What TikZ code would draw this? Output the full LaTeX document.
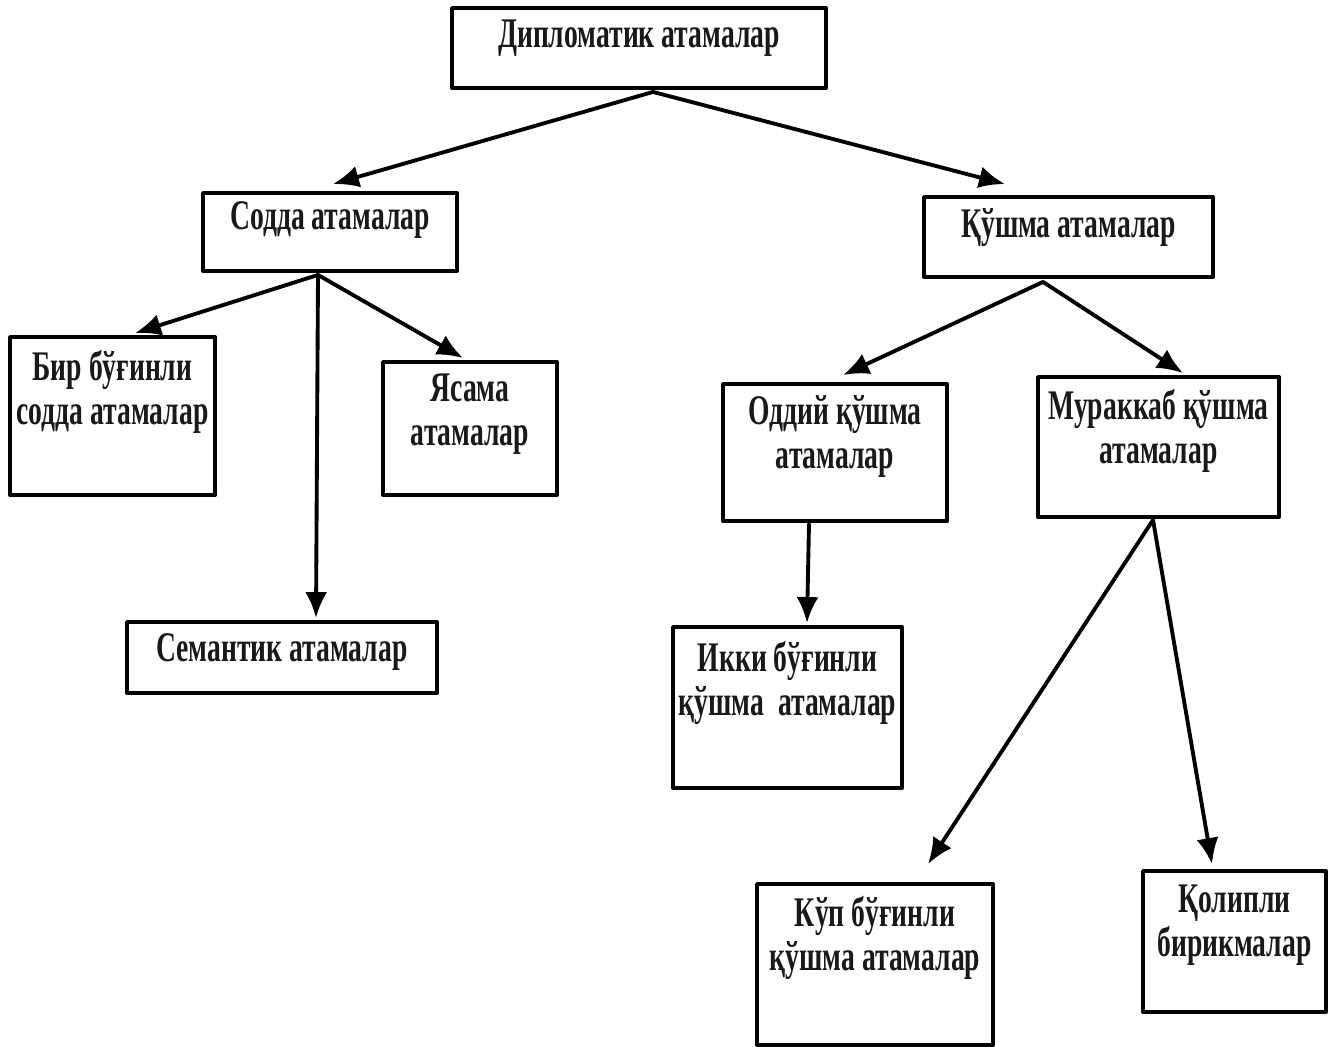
\documentclass[tikz,border=0pt]{standalone}
\usepackage{fontspec}
\newfontfamily\atama[FakeStretch=0.655]{Liberation Serif}
\usetikzlibrary{positioning, arrows.meta, calc}

\begin{document}
\begin{tikzpicture}[x=0.02cm, y=-0.02cm, line cap=round, line join=round,
	>={Latex[length=0.52cm,width=0.44cm]},
	quti/.style={draw, line width=2.2pt, fill=white, inner sep=0pt},
	matn/.style={font=\atama\bfseries\fontsize{24}{25}\selectfont, align=center, inner sep=0pt, text=black!90},
	yunalish/.style={->, line width=2.2pt}]
	
	% Parámetros
	\def\px{0.02cm}  % un pixel de la imagen
	
	\useasboundingbox (0,0) rectangle (1338,1047);
	
	% --- Cajas ---
	\node[quti, minimum width=374*\px, minimum height=80*\px] (dip) at (639,48) {};
	\node[quti, minimum width=254*\px, minimum height=78*\px] (sodda) at (330,232) {};
	\node[quti, minimum width=289*\px, minimum height=80*\px] (qushma) at (1068.5,237) {};
	\node[quti, minimum width=205*\px, minimum height=158*\px] (bir) at (112.5,416) {};
	\node[quti, minimum width=174*\px, minimum height=133*\px] (yasama) at (470,428.5) {};
	\node[quti, minimum width=310*\px, minimum height=71*\px] (semantik) at (282,657.5) {};
	\node[quti, minimum width=224*\px, minimum height=137*\px] (oddiy) at (835,452.5) {};
	\node[quti, minimum width=241*\px, minimum height=140*\px] (murakkab) at (1158.5,447) {};
	\node[quti, minimum width=229*\px, minimum height=161*\px] (ikki) at (787.5,707.5) {};
	\node[quti, minimum width=236*\px, minimum height=161*\px] (kup) at (875,964.5) {};
	\node[quti, minimum width=183*\px, minimum height=141*\px] (qolipli) at (1234.5,941.5) {};
	
	% --- Textos ---
	\node[matn] (dipT) at (639,38) {Дипломатик атамалар};
	\node[matn] (soddaT) at (330,220) {Содда атамалар};
	\node[matn] (qushmaT) at (1068.5,228) {Қўшма атамалар};
	\node[matn] (birT) at (112.5,391.5) {Бир бўғинли\\содда атамалар};
	\node[matn] (yasamaT) at (470,414.5) {Ясама\\атамалар};
	\node[matn] (semantikT) at (282,652) {Семантик атамалар};
	\node[matn] (oddiyT) at (835,436.5) {Оддий қўшма\\атамалар};
	\node[matn] (murakkabT) at (1158.5,430.5) {Мураккаб қўшма\\атамалар};
	\node[matn] (ikkiT) at (787.5,682.5) {Икки бўғинли\\қўшма\ \ атамалар};
	\node[matn] (kupT) at (875,937.5) {Кўп бўғинли\\қўшма атамалар};
	\node[matn] (qolipliT) at (1234.5,925.5) {Қолипли\\бирикмалар};
	
	% --- Flechas ---
	\draw[yunalish] ($(dip.south)+(14,2)$) -- ($(sodda.north)+(3,-7)$);
	\draw[yunalish] ($(dip.south)+(14,2)$) -- ($(qushma.north)+(-63.5,-11)$);
	
	\draw[yunalish] ($(sodda.south)+(-12,2)$) -- ($(bir.north)+(22.5,-2)$);
	\draw[yunalish] ($(sodda.south)+(-12,2)$) -- ($(semantik.north)+(34,-2)$);
	\draw[yunalish] ($(sodda.south)+(-12,2)$) -- ($(yasama.north)+(-7,-2)$);
	
	\draw[yunalish] ($(qushma.south)+(-25.5,3)$) -- ($(oddiy.north)+(8,-7)$);
	\draw[yunalish] ($(qushma.south)+(-25.5,3)$) -- ($(murakkab.north)+(24.5,-2)$);
	
	\draw[yunalish] ($(oddiy.south)+(-26,1)$) -- ($(ikki.north)+(19.5,-2)$);
	
	\draw[yunalish] ($(murakkab.south)+(-5.5,1)$) -- ($(kup.north)+(53,-18)$);
	\draw[yunalish] ($(murakkab.south)+(-5.5,1)$) -- ($(qolipli.north)+(-22.5,-5)$);
	
\end{tikzpicture}
\end{document}
